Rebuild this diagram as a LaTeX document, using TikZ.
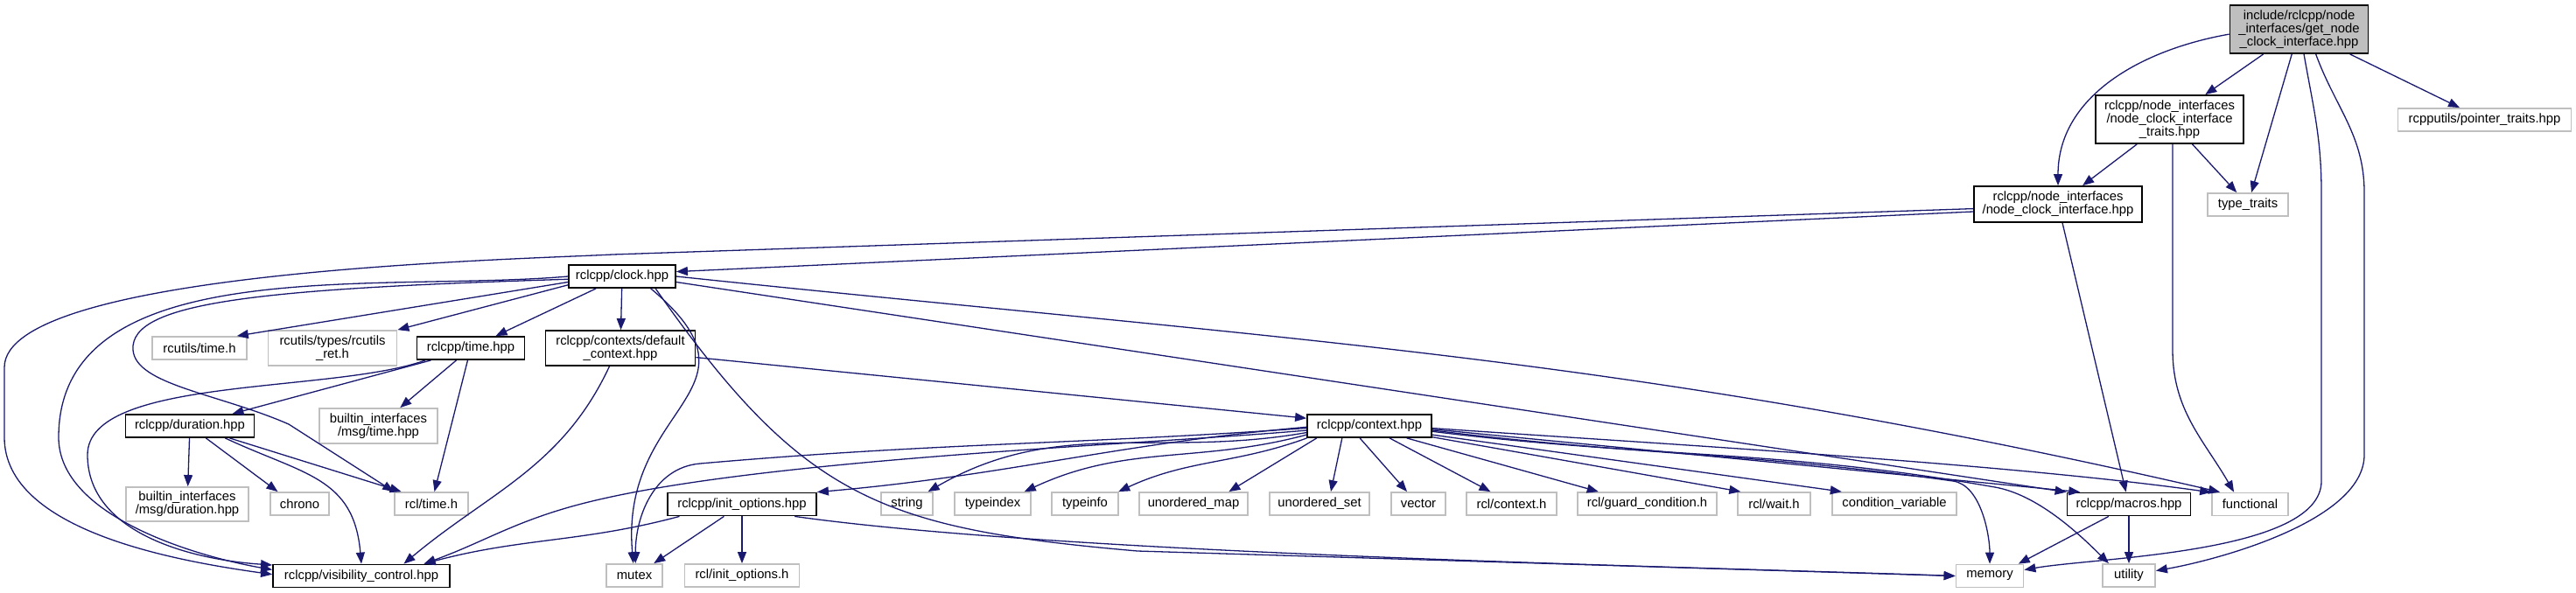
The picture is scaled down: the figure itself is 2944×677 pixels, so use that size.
\documentclass[tikz,border=0pt]{standalone}
\usepackage{fontspec}
\setmainfont{Liberation Sans}
\usetikzlibrary{arrows.meta}
\definecolor{edgeblue}{HTML}{191970}
\definecolor{extgray}{HTML}{BFBFBF}

\begin{document}
\begin{tikzpicture}[x=0.5pt, y=0.5pt]
\tikzstyle{every node} = [font=\fontsize{7.4}{7.5}\selectfont, align=center, inner sep=0pt, minimum height=13pt, line width=0.9pt, fill=white]
\tikzstyle{doc} = [draw=black]
\tikzstyle{ext} = [draw=extgray]
\tikzstyle{edge} = [draw=edgeblue, line width=0.65pt, -{Triangle[length=6.5pt,width=5pt]}]

\useasboundingbox (0, 0) rectangle (2944, -677);

\node [doc, fill=extgray, minimum width=79pt, minimum height=27.5pt] (root) at (2627.5, -33.5) {include/rclcpp/node\\\_interfaces/get\_node\\\_clock\_interface.hpp};
\node [doc, minimum width=84.5pt, minimum height=27.5pt] (traits) at (2479.5, -136.5) {rclcpp/node\_interfaces\\/node\_clock\_interface\\\_traits.hpp};
\node [ext, minimum width=99pt] (ptr) at (2839.5, -137) {rcpputils/pointer\_traits.hpp};
\node [doc, minimum width=96pt, minimum height=20.5pt] (nci) at (2352, -233.5) {rclcpp/node\_interfaces\\/node\_clock\_interface.hpp};
\node [ext, minimum width=46pt] (tt) at (2569, -234) {type\_traits};

\node [doc, minimum width=61pt] (clock) at (711, -316) {rclcpp/clock.hpp};
\node [ext, minimum width=54pt] (rtime) at (228, -398) {rcutils/time.h};
\node [ext, minimum width=73.5pt, minimum height=20pt] (rret) at (380, -398) {rcutils/types/rcutils\\\_ret.h};
\node [doc, minimum width=61.5pt] (time) at (538, -398) {rclcpp/time.hpp};
\node [doc, minimum width=85.5pt, minimum height=20pt] (dctx) at (709, -398) {rclcpp/contexts/default\\\_context.hpp};

\node [doc, minimum width=73.5pt] (dur) at (217, -487) {rclcpp/duration.hpp};
\node [ext, minimum width=67.5pt, minimum height=20pt] (btime) at (432.5, -487) {builtin\_interfaces\\/msg/time.hpp};
\node [doc, minimum width=71pt] (ctx) at (1565, -487) {rclcpp/context.hpp};

\node [ext, minimum width=70pt, minimum height=19.5pt] (bdur) at (214, -576.5) {builtin\_interfaces\\/msg/duration.hpp};
\node [ext, minimum width=33.5pt] (chrono) at (342.5, -576) {chrono};
\node [ext, minimum width=42pt] (rcltime) at (493, -576) {rcl/time.h};
\node [doc, minimum width=85pt] (init) at (848, -576.5) {rclcpp/init\_options.hpp};
\node [ext, minimum width=29.5pt] (string) at (1036.5, -576) {string};
\node [ext, minimum width=43.5pt] (tindex) at (1134.5, -576) {typeindex};
\node [ext, minimum width=38pt] (tinfo) at (1240, -576) {typeinfo};
\node [ext, minimum width=62pt] (umap) at (1364, -576) {unordered\_map};
\node [ext, minimum width=57pt] (uset) at (1508, -576) {unordered\_set};
\node [ext, minimum width=31pt] (vector) at (1621, -576) {vector};
\node [ext, minimum width=51.5pt] (rclctx) at (1727.5, -576) {rcl/context.h};
\node [ext, minimum width=79.5pt] (guard) at (1882.5, -576) {rcl/guard\_condition.h};
\node [ext, minimum width=41.5pt] (wait) at (2027.5, -576) {rcl/wait.h};
\node [ext, minimum width=71pt] (condvar) at (2165, -576) {condition\_variable};
\node [doc, minimum width=70.5pt] (macros) at (2433, -576.5) {rclcpp/macros.hpp};
\node [ext, minimum width=43.5pt] (functional) at (2571.5, -576.5) {functional};

\node [doc, minimum width=101pt] (vis) at (413, -658.5) {rclcpp/visibility\_control.hpp};
\node [ext, minimum width=32pt] (mutex) at (725, -658) {mutex};
\node [ext, minimum width=65.5pt] (rclinit) at (848, -658) {rcl/init\_options.h};
\node [ext, minimum width=38.5pt] (memory) at (2274, -658.5) {memory};
\node [ext, minimum width=30pt] (utility) at (2433, -658) {utility};

% get_node_clock_interface.hpp
\draw [edge] (root.184) to [out=190,in=90] (nci.north);
\draw [edge] (root) -- (traits);
\draw [edge] (root) -- (tt);
\draw [edge] (root) -- (ptr);
\draw [edge] (root.-79) to [out=-80,in=90] (2653, -220) -- (2653, -550) to [out=-90,in=10,looseness=0.6] (memory.10);
\draw [edge] (root.-56) to [out=-70,in=90] (2702, -220) -- (2702, -520) to [out=-90,in=10,looseness=0.7] (utility.10);

% node_clock_interface_traits.hpp
\draw [edge] (traits) -- (nci);
\draw [edge] (traits) -- (tt);
\draw [edge] (traits.-83) -- (2483, -400) to [out=-90,in=120] (functional.143);

% node_clock_interface.hpp
\draw [edge] (nci.185) -- (clock.5);
\draw [edge] (nci.183) -- (700, -291) to [out=183,in=90,looseness=0.4] (5, -420) -- (5, -500) to [out=-90,in=172,looseness=0.8] (vis.179);
\draw [edge] (nci) -- (macros);

% clock.hpp
\draw [edge] (clock.180) to [out=185,in=90,looseness=0.9] (67, -500) to [out=-90,in=170,looseness=0.8] (vis.176);
\draw [edge] (clock.183) .. controls (300, -330) and (148, -345) .. (152, -400) .. controls (155, -440) and (250, -450) .. (330, -485) -- (rcltime.162);
\draw [edge] (clock.186) -- (rtime.18);
\draw [edge] (clock.189) -- (rret.north east);
\draw [edge] (clock.205) -- (time.26);
\draw [edge] (clock) -- (dctx);
\draw [edge] (clock.-23) to [out=-40,in=95,looseness=1.5] (mutex.95);
\draw [edge] (clock.-20) to [out=-55,in=175,looseness=1.2] (1300, -630) -- (memory.west);
\draw [edge] (clock.-6) -- (macros.169);
\draw [edge] (clock.0) to [out=-6,in=167] (functional.158);

% time.hpp
\draw [edge] (time.197) -- (dur.16);
\draw [edge] (time) -- (btime);
\draw [edge] (time) -- (rcltime);
\draw [edge] (time.195) .. controls (380, -450) and (100, -430) .. (100, -520) .. controls (100, -610) and (220, -640) .. (vis.173);

% duration.hpp
\draw [edge] (dur) -- (bdur);
\draw [edge] (dur.-37) -- (chrono.151);
\draw [edge] (dur.-17) -- (rcltime.158);
\draw [edge] (dur.-19) to [out=-25,in=95,looseness=1.2] (vis.north);

% default_context.hpp
\draw [edge] (dctx.-7) -- (ctx.173);
\draw [edge] (dctx.239) to [out=-115,in=40] (vis.16);

% context.hpp
\draw [edge] (ctx.181) to [out=185,in=5] (init.north east);
\draw [edge] (ctx.182) to [out=184,in=5] (800, -530) to [out=185,in=90] (mutex.85);
\draw [edge] (ctx.184) to [out=185,in=16,looseness=0.6] (650, -580) to [out=196,in=20] (vis.11);
\draw [edge] (ctx.186) to [out=190,in=30] (string.30);
\draw [edge] (ctx.188) to [out=195,in=25] (tindex.21);
\draw [edge] (ctx.191) to [out=200,in=25] (tinfo.20);
\draw [edge] (ctx.193) -- (umap.19);
\draw [edge] (ctx.204) -- (uset.47);
\draw [edge] (ctx.232) -- (vector.133);
\draw [edge] (ctx.-31) -- (rclctx.150);
\draw [edge] (ctx.-18) -- (guard.166);
\draw [edge] (ctx.-10) -- (wait.160);
\draw [edge] (ctx.-8) -- (condvar.167);
\draw [edge] (ctx.-3) -- (macros.166);
\draw [edge] (ctx.-4) to [out=-7,in=172] (2232, -550) to [out=-8,in=90,looseness=0.8] (memory.north);
\draw [edge] (ctx.-5) to [out=-7,in=170] (2280, -557) to [out=-10,in=135,looseness=0.8] (utility.149);
\draw [edge] (ctx.-2) to [out=-4,in=172,looseness=0.7] (functional.163);

% init_options.hpp
\draw [edge] (init.191) to [out=195,in=15] (vis.11);
\draw [edge] (init.214) -- (mutex.32);
\draw [edge] (init) -- (rclinit);
\draw [edge] (init.-13) to [out=-8,in=178,looseness=0.6] (memory.west);

% macros.hpp
\draw [edge] (macros.211) -- (memory.23);
\draw [edge] (macros) -- (utility);

\end{tikzpicture}
\end{document}
